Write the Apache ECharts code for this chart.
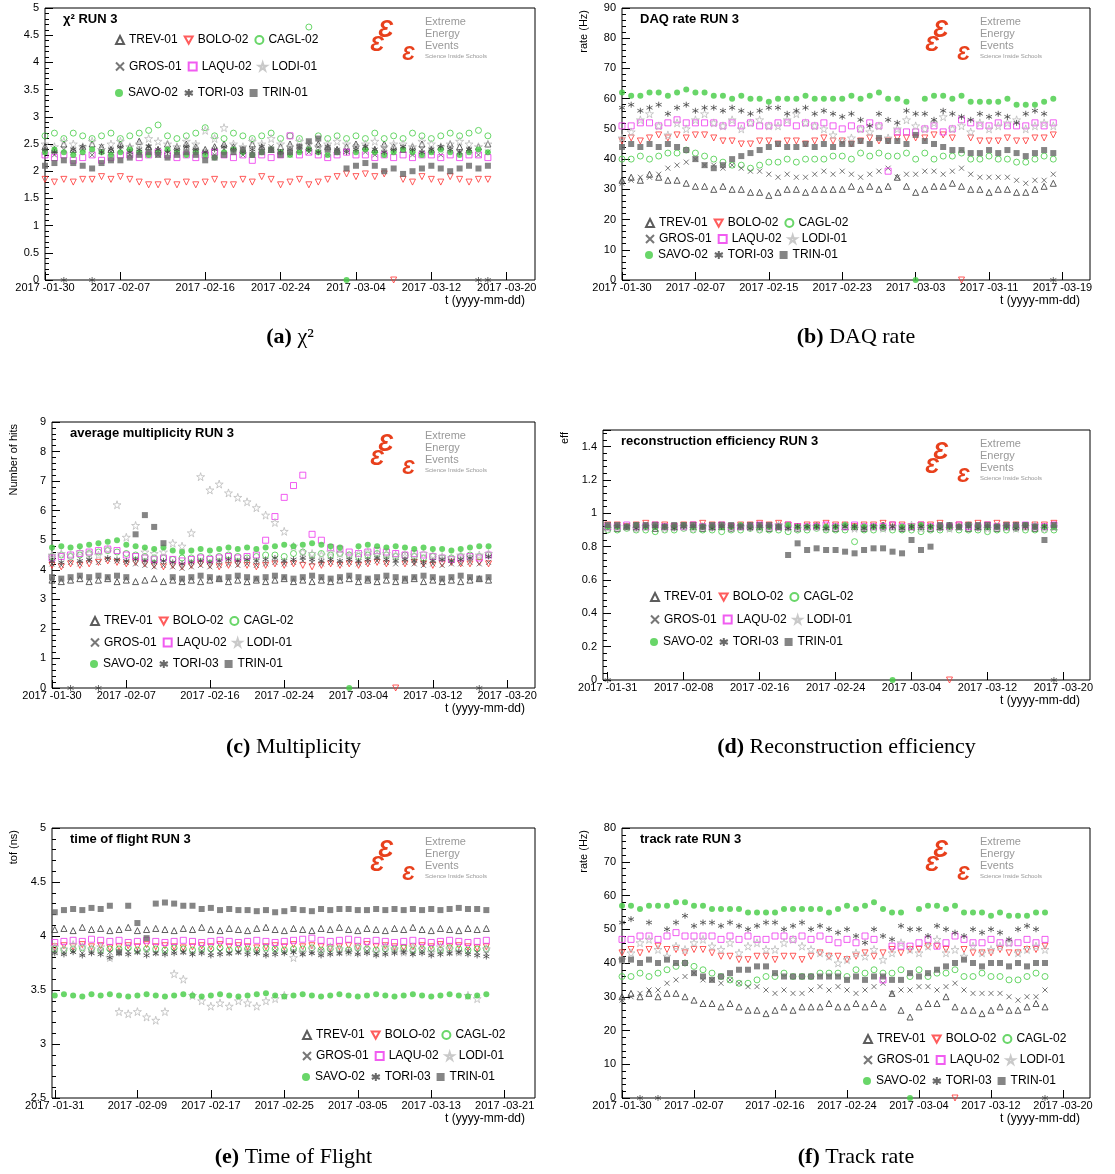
<!DOCTYPE html>
<html lang="en">
  <head>
    <meta charset="UTF-8" />
    <title>EEE RUN 3</title>
    <script src="https://cdn.jsdelivr.net/npm/echarts@6/dist/echarts.min.js"></script>
    <style>
      body { margin: 0; background: #fff; }
      #main { width: 1115px; height: 1174px; }
    </style>
  </head>
  <body>
    <div id="main"></div>
    <script>
      const stations = ["TREV-01", "BOLO-02", "CAGL-02", "GROS-01", "LAQU-02", "LODI-01", "SAVO-02", "TORI-03", "TRIN-01"];

      // chi2, days 0..47 from 2017-01-30
      const chi2 = {
        TREV: [2.45,2.4,2.5,2.4,2.45,2.5,2.45,2.4,2.5,2.45,2.55,2.45,2.4,2.5,2.45,2.5,2.45,2.4,2.45,2.5,2.45,2.4,2.5,2.45,2.4,2.45,2.5,2.4,2.45,2.5,2.45,2.4,2.45,2.5,2.45,2.4,2.5,2.45,2.4,2.45,2.5,2.4,2.45,2.5,2.45,2.4,2.45,2.5],
        BOLO: [1.85,1.8,1.85,1.8,1.85,1.85,1.9,1.85,1.9,1.85,1.8,1.75,1.75,1.8,1.75,1.8,1.75,1.8,1.85,1.75,1.75,1.85,1.8,1.9,1.85,1.75,1.8,1.85,1.75,1.8,1.85,1.9,1.95,1.9,1.95,1.9,1.95,0,1.85,1.8,1.9,1.85,1.8,1.9,1.85,1.8,1.85,1.85],
        CAGL: [2.65,2.7,2.6,2.7,2.65,2.6,2.65,2.7,2.6,2.65,2.7,2.75,2.85,2.65,2.6,2.65,2.7,2.8,2.65,2.6,2.7,2.65,2.6,2.65,2.7,2.6,2.65,2.6,4.65,2.65,2.6,2.65,2.6,2.65,2.6,2.7,2.6,2.65,2.6,2.7,2.65,2.6,2.65,2.7,2.65,2.7,2.75,2.65],
        GROS: [2.35,2.3,2.4,2.35,2.4,2.3,2.45,2.35,2.4,2.3,2.35,2.45,2.3,2.4,2.35,2.45,2.4,2.35,2.3,2.4,2.45,2.3,2.35,2.4,2.45,2.35,2.3,2.4,2.35,2.45,2.3,2.35,2.4,2.45,2.35,2.3,2.4,2.35,2.45,2.3,2.4,2.35,2.3,2.45,2.35,2.4,2.3,2.35],
        LAQU: [2.3,2.25,2.3,2.2,2.25,2.3,2.2,2.25,2.3,2.3,2.25,2.3,2.35,2.3,2.25,2.3,2.25,2.3,2.35,2.3,2.25,2.3,2.2,2.3,2.25,2.3,2.65,2.3,2.35,2.3,2.25,2.3,2.35,2.3,2.3,2.25,2.3,2.25,2.3,2.25,2.3,2.3,2.25,2.3,2.25,2.3,2.3,2.25],
        LODI: [2.5,2.45,2.55,2.5,2.45,2.55,2.4,2.5,2.55,2.45,2.5,2.6,2.55,2.5,2.45,2.55,2.5,2.75,2.6,2.8,2.5,2.45,2.55,2.5,2.6,2.5,2.45,2.55,2.5,2.45,2.5,2.55,2.5,2.45,2.5,2.55,2.45,2.5,2.5,2.45,2.55,2.5,2.45,2.5,2.55,2.5,2.45,2.5],
        SAVO: [2.35,2.4,2.35,2.3,2.35,2.4,2.35,2.3,2.35,2.4,2.35,2.3,2.35,2.4,2.35,2.3,2.35,2.3,2.25,2.35,2.4,2.35,2.3,2.35,2.4,2.35,2.3,2.35,2.4,2.35,2.3,2.35,0,2.35,2.4,2.35,2.3,2.35,2.4,2.35,2.3,2.35,2.4,2.35,2.3,2.35,2.4,2.35],
        TORI: [2.4,2.35,0,2.4,2.45,0,2.35,2.4,2.45,2.35,2.4,2.45,2.4,2.35,2.4,2.45,2.4,2.35,2.4,2.45,2.4,2.35,2.4,2.45,2.4,2.35,2.4,2.45,2.4,2.35,2.45,2.4,2.35,2.4,2.45,2.4,2.35,2.4,2.45,2.4,2.35,2.4,2.45,2.4,2.35,2.4,0,0],
        TRIN: [2.1,2.15,2.2,2.15,2.1,2.05,2.15,2.2,2.2,2.25,2.3,2.35,2.3,2.25,2.3,2.35,2.3,2.2,2.25,2.3,2.35,2.4,2.3,2.35,2.4,2.3,2.35,2.45,2.55,2.6,2.4,2.35,2.05,2.1,2.15,2.1,2.0,2.05,1.95,2.0,2.05,2.1,2.05,2.0,2.05,2.1,2.05,2.1]
      };

      const daqRate = {
        TREV: [33,34,33,35,34,33,33,32,31,31,30,31,30,30,29,29,28,29,30,30,29,30,30,30,30,31,30,31,30,31,34,31,29,30,31,31,32,31,30,30,29,30,30,29,29,30,31,32],
        BOLO: [46,47,46,47,48,47,48,47,48,48,47,46,46,45,45,46,46,45,46,46,45,46,47,46,46,45,46,47,46,46,47,47,47,47,48,48,47,0,47,46,46,46,47,46,46,47,47,48],
        CAGL: [40,40,41,40,41,42,42,43,42,41,40,39,38,38,37,38,39,39,40,39,40,40,40,41,41,40,42,41,42,41,41,42,40,42,40,41,41,42,40,40,41,40,40,39,39,40,41,40],
        GROS: [32,33,34,34,35,37,38,39,40,38,38,37,38,37,36,36,35,34,35,34,34,35,36,35,36,35,34,35,36,37,34,35,35,36,36,35,36,37,35,34,34,34,34,33,32,33,33,35],
        LAQU: [51,51,52,52,51,52,53,52,52,52,52,51,52,51,52,51,51,52,52,51,52,51,52,51,50,51,50,52,51,36,49,49,49,50,51,49,50,53,52,51,51,52,51,51,51,52,51,52],
        LODI: [47,49,53,55,51,48,52,50,53,55,52,51,53,50,52,53,51,51,53,55,52,51,50,48,46,47,50,49,51,47,50,53,51,50,52,54,50,51,49,52,50,51,52,53,50,51,52,51],
        SAVO: [62,61,61,62,62,61,62,63,62,62,61,61,60,61,60,60,59,60,60,60,61,60,60,60,60,61,60,61,62,60,60,59,0,60,61,61,60,61,59,59,59,59,60,58,58,58,59,60],
        TORI: [57,58,56,57,58,55,57,58,56,57,57,56,57,56,55,56,57,57,55,56,57,55,56,55,54,55,53,51,55,53,52,56,55,55,53,56,55,54,53,55,54,55,54,52,55,56,55,0],
        TRIN: [44,45,44,45,44,45,44,43,40,38,37,38,40,41,42,43,44,45,44,44,45,44,45,44,45,45,46,45,47,46,46,45,48,46,45,44,43,43,42,42,43,42,43,42,41,42,43,42]
      };

      const multiplicity = {
        TREV: [3.65,3.6,3.65,3.7,3.6,3.65,3.7,3.6,3.65,3.6,3.65,3.7,3.6,3.65,3.6,3.65,3.6,3.65,3.7,3.6,3.65,3.6,3.65,3.6,3.65,3.7,3.6,3.65,3.6,3.65,3.6,3.65,3.7,3.6,3.65,3.6,3.65,3.6,3.65,3.7,3.6,3.65,3.6,3.65,3.6,3.65,3.7,3.65],
        BOLO: [4.15,4.1,4.2,4.15,4.2,4.25,4.3,4.25,4.2,4.25,4.2,4.15,4.1,4.15,4.1,4.15,4.2,4.15,4.1,4.15,4.2,4.15,4.1,4.15,4.2,4.15,4.2,4.15,4.1,4.15,4.2,4.15,4.2,4.15,4.2,4.25,4.2,0,4.2,4.25,4.2,4.15,4.2,4.25,4.2,4.2,4.25,4.2],
        CAGL: [4.45,4.5,4.45,4.5,4.55,4.6,4.65,4.6,4.55,4.5,4.45,4.4,4.4,4.35,4.4,4.4,4.45,4.4,4.45,4.5,4.45,4.4,4.45,4.5,4.5,4.45,4.55,4.6,4.5,4.55,4.5,4.55,4.5,4.45,4.5,4.55,4.5,4.45,4.5,4.45,4.4,4.45,4.4,4.4,4.45,4.5,4.45,4.5],
        GROS: [4.2,4.15,4.25,4.2,4.3,4.25,4.35,4.3,4.25,4.2,4.15,4.1,4.15,4.1,4.05,4.1,4.15,4.1,4.15,4.2,4.15,4.2,4.15,4.2,4.25,4.2,4.25,4.3,4.25,4.2,4.25,4.2,4.25,4.2,4.25,4.3,4.25,4.2,4.25,4.2,4.15,4.2,4.15,4.2,4.2,4.25,4.2,4.25],
        LAQU: [4.4,4.45,4.5,4.55,4.6,4.65,4.7,4.65,4.5,4.45,4.4,4.35,4.4,4.35,4.3,4.35,4.4,4.35,4.4,4.45,4.4,4.45,4.5,5.0,5.8,6.45,6.85,7.2,5.2,5.0,4.75,4.7,4.6,4.55,4.6,4.65,4.6,4.55,4.5,4.55,4.5,4.45,4.4,4.35,4.4,4.45,4.4,4.5],
        LODI: [4.5,4.55,4.5,4.6,4.55,4.5,4.7,6.2,5.1,5.5,4.6,4.55,4.6,4.9,4.8,5.25,7.15,6.7,6.9,6.6,6.45,6.3,6.1,5.85,5.6,5.3,4.8,4.6,4.55,4.5,4.6,4.55,4.5,4.55,4.6,4.5,4.55,4.5,4.45,4.5,4.55,4.5,4.45,4.4,4.5,4.45,4.5,4.55],
        SAVO: [4.75,4.8,4.75,4.8,4.85,4.9,4.95,5.0,4.85,4.8,4.75,4.7,4.75,4.65,4.6,4.65,4.7,4.65,4.7,4.75,4.7,4.75,4.7,4.75,4.8,4.85,4.8,4.85,4.9,4.85,4.8,4.75,0,4.8,4.85,4.8,4.75,4.8,4.75,4.7,4.75,4.7,4.7,4.65,4.7,4.75,4.8,4.8],
        TORI: [4.3,4.25,0,4.3,4.35,0,4.4,4.35,4.3,4.35,4.3,4.25,4.3,4.25,4.2,4.25,4.3,4.25,4.3,4.35,4.3,4.35,4.3,4.35,4.4,4.3,4.35,4.4,4.35,4.3,4.35,4.3,4.35,4.3,4.35,4.4,4.35,4.3,4.35,4.3,4.25,4.3,4.35,4.3,4.35,4.4,0,4.45],
        TRIN: [3.75,3.7,3.75,3.8,3.75,3.8,3.75,3.8,3.75,5.2,5.85,5.45,4.9,3.75,3.7,3.75,3.8,3.75,3.7,3.75,3.8,3.75,3.7,3.75,3.8,3.75,3.7,3.75,3.8,3.75,3.7,3.75,3.8,3.75,3.7,3.75,3.8,3.75,3.7,3.75,3.8,3.75,3.7,3.75,3.8,3.75,3.7,3.75]
      };

      // efficiency, days 1..48
      const efficiency = {
        TREV: [0.92,0.91,0.92,0.93,0.92,0.91,0.92,0.92,0.93,0.92,0.91,0.92,0.92,0.91,0.92,0.93,0.92,0.91,0.92,0.92,0.91,0.92,0.93,0.92,0.91,0.92,0.92,0.91,0.92,0.93,0.92,0.91,0.92,0.92,0.91,0.92,0.93,0.92,0.91,0.92,0.92,0.91,0.92,0.93,0.92,0.91,0.92,0.92],
        BOLO: [0.93,0.93,0.92,0.93,0.94,0.93,0.93,0.92,0.93,0.93,0.94,0.93,0.93,0.92,0.93,0.93,0.94,0.93,0.94,0.93,0.92,0.93,0.93,0.94,0.93,0.93,0.92,0.93,0.93,0.94,0.93,0.93,0.92,0.93,0.93,0.94,0,0.93,0.93,0.94,0.93,0.94,0.93,0.93,0.92,0.93,0.93,0.94],
        CAGL: [0.9,0.9,0.91,0.9,0.9,0.89,0.9,0.9,0.91,0.9,0.9,0.9,0.89,0.9,0.9,0.91,0.9,0.9,0.9,0.89,0.9,0.9,0.91,0.9,0.9,0.9,0.83,0.9,0.9,0.91,0.9,0.9,0.9,0.89,0.9,0.9,0.91,0.9,0.9,0.9,0.89,0.9,0.9,0.91,0.9,0.9,0.9,0.9],
        GROS: [0.91,0.92,0.91,0.91,0.92,0.91,0.92,0.91,0.91,0.92,0.91,0.91,0.92,0.91,0.92,0.91,0.91,0.92,0.91,0.91,0.92,0.91,0.92,0.91,0.91,0.92,0.91,0.91,0.92,0.91,0.92,0.91,0.91,0.92,0.91,0.91,0.92,0.91,0.92,0.91,0.91,0.92,0.91,0.91,0.92,0.91,0.92,0.91],
        LAQU: [0.92,0.92,0.93,0.92,0.92,0.93,0.92,0.92,0.92,0.93,0.92,0.92,0.93,0.92,0.92,0.92,0.93,0.92,0.92,0.93,0.92,0.92,0.92,0.93,0.92,0.92,0.93,0.92,0.92,0.92,0.93,0.92,0.92,0.93,0.92,0.92,0.92,0.93,0.92,0.92,0.93,0.92,0.92,0.92,0.93,0.92,0.92,0.93],
        LODI: [0.91,0.92,0.92,0.91,0.92,0.93,0.91,0.92,0.92,0.91,0.92,0.92,0.93,0.91,0.92,0.92,0.91,0.92,0.93,0.92,0.91,0.92,0.92,0.91,0.92,0.93,0.91,0.92,0.92,0.91,0.92,0.92,0.93,0.91,0.92,0.92,0.91,0.92,0.93,0.92,0.91,0.92,0.92,0.91,0.92,0.93,0.91,0.92],
        SAVO: [0.92,0.92,0.92,0.93,0.92,0.92,0.92,0.92,0.93,0.92,0.92,0.92,0.92,0.92,0.93,0.92,0.92,0.92,0.92,0.93,0.92,0.92,0.92,0.92,0.92,0.93,0.92,0.92,0.92,0.92,0,0.92,0.92,0.93,0.92,0.92,0.92,0.92,0.93,0.92,0.92,0.92,0.92,0.92,0.93,0.92,0.92,0.92],
        TORI: [0,0.92,0.92,0.91,0.92,0.92,0.92,0.91,0.92,0.92,0.92,0.91,0.92,0.92,0.92,0.91,0.92,0.92,0.92,0.91,0.92,0.92,0.92,0.91,0.92,0.92,0.92,0.91,0.92,0.92,0.92,0.91,0.92,0.92,0.92,0.91,0.92,0.92,0.92,0.91,0.92,0.92,0.92,0.91,0.92,0.92,0.92,0],
        TRIN: [0.93,0.93,0.92,0.93,0.93,0.93,0.92,0.93,0.93,0.93,0.92,0.93,0.93,0.93,0.92,0.93,0.93,0.93,0.92,0.75,0.82,0.78,0.79,0.78,0.78,0.77,0.76,0.78,0.79,0.79,0.77,0.76,0.84,0.78,0.8,0.93,0.93,0.92,0.93,0.93,0.93,0.92,0.93,0.93,0.93,0.92,0.84,0.93]
      };

      // time of flight, days 1..48
      const timeOfFlight = {
        TREV: [4.06,4.07,4.05,4.08,4.06,4.07,4.05,4.06,4.08,4.05,4.06,4.07,4.06,4.05,4.07,4.06,4.08,4.06,4.05,4.07,4.06,4.05,4.07,4.08,4.06,4.05,4.07,4.06,4.05,4.07,4.06,4.08,4.06,4.05,4.07,4.06,4.05,4.07,4.06,4.08,4.06,4.05,4.07,4.06,4.05,4.07,4.06,4.07],
        BOLO: [3.9,3.91,3.9,3.92,3.9,3.91,3.89,3.9,3.91,3.9,3.92,3.9,3.91,3.9,3.89,3.9,3.91,3.9,3.92,3.9,3.91,3.9,3.89,3.9,3.91,3.9,3.92,3.9,3.91,3.9,3.89,3.9,3.91,3.9,3.92,3.9,3.91,3.9,3.89,3.9,3.91,3.9,3.92,3.9,3.91,3.9,3.89,3.9],
        CAGL: [3.88,3.87,3.88,3.89,3.88,3.87,3.88,3.88,3.89,3.87,3.88,3.88,3.87,3.89,3.88,3.87,3.88,3.88,3.89,3.87,3.88,3.88,3.87,3.89,3.88,3.87,3.88,3.88,3.89,3.87,3.88,3.88,3.87,3.89,3.88,3.87,3.88,3.88,3.89,3.87,3.88,3.88,3.87,3.89,3.88,3.87,3.88,3.88],
        GROS: [3.86,3.85,3.86,3.84,3.85,3.86,3.85,3.84,3.86,3.85,3.86,3.84,3.85,3.86,3.85,3.84,3.86,3.85,3.86,3.84,3.85,3.86,3.85,3.84,3.86,3.85,3.86,3.84,3.85,3.86,3.85,3.84,3.86,3.85,3.86,3.84,3.85,3.86,3.85,3.84,3.86,3.85,3.86,3.84,3.85,3.86,3.85,3.84],
        LAQU: [3.94,3.95,3.96,3.95,3.97,3.96,3.95,3.96,3.94,3.95,3.96,3.95,3.94,3.95,3.96,3.95,3.94,3.95,3.96,3.95,3.94,3.95,3.96,3.95,3.94,3.95,3.96,3.97,3.98,3.96,3.95,3.96,3.97,3.96,3.95,3.96,3.95,3.94,3.95,3.96,3.95,3.94,3.95,3.96,3.95,3.94,3.95,3.96],
        LODI: [3.9,3.88,3.92,3.9,3.88,3.9,3.8,3.3,3.28,3.3,3.25,3.22,3.3,3.65,3.6,3.45,3.4,3.35,3.38,3.35,3.4,3.38,3.35,3.4,3.42,3.45,3.8,3.85,3.88,3.85,3.9,3.88,3.85,3.9,3.88,3.85,3.9,3.88,3.85,3.9,3.88,3.85,3.9,3.88,3.85,3.45,3.42,3.88],
        SAVO: [3.45,3.46,3.45,3.44,3.46,3.45,3.46,3.45,3.44,3.45,3.46,3.45,3.44,3.45,3.46,3.45,3.44,3.45,3.46,3.45,3.44,3.45,3.46,3.47,3.45,3.44,3.45,3.46,3.45,3.44,3.45,3.46,3.45,3.44,3.45,3.46,3.45,3.44,3.45,3.46,3.45,3.44,3.45,3.46,3.45,3.44,3.45,3.46],
        TORI: [3.84,3.83,3.85,3.82,3.84,3.83,3.8,3.84,3.83,3.85,3.82,3.84,3.83,3.84,3.85,3.83,3.84,3.82,3.83,3.84,3.85,3.83,3.84,3.82,3.83,3.84,3.85,3.83,3.84,3.82,3.83,3.84,3.85,3.83,3.84,3.82,3.83,3.84,3.85,3.83,3.84,3.82,3.83,3.84,3.85,3.83,3.82,3.81],
        TRIN: [4.22,4.24,4.25,4.24,4.26,4.25,4.28,3.85,4.28,4.12,3.98,4.3,4.31,4.3,4.28,4.28,4.25,4.26,4.24,4.25,4.24,4.24,4.23,4.24,4.22,4.23,4.25,4.24,4.23,4.25,4.24,4.25,4.25,4.24,4.24,4.25,4.24,4.25,4.24,4.25,4.24,4.25,4.24,4.25,4.26,4.25,4.25,4.24]
      };

      const trackRate = {
        TREV: [30,31,30,31,30,31,31,30,29,28,28,27,28,27,26,26,25,26,27,26,27,27,27,28,27,27,28,27,28,27,31,26,24,27,28,28,30,27,26,26,25,26,27,26,26,27,28,27],
        BOLO: [43,44,43,44,45,44,44,43,44,44,43,42,42,41,41,42,42,41,42,42,41,42,43,42,42,41,42,43,42,43,44,43,44,44,45,45,44,0,44,43,43,43,44,43,43,44,44,45],
        CAGL: [36,36,37,36,37,38,39,40,39,38,37,36,35,34,34,35,36,36,37,36,36,36,37,37,37,36,38,37,38,37,37,38,36,38,36,37,37,38,36,36,37,36,36,35,35,36,37,36],
        GROS: [29,30,31,32,32,34,35,36,37,35,35,34,35,34,33,33,32,31,32,31,31,32,33,32,33,32,31,32,33,34,31,32,32,33,33,32,33,34,32,31,31,31,31,30,29,30,30,32],
        LAQU: [47,47,48,48,47,48,49,48,48,48,48,47,48,47,48,47,47,48,48,47,48,47,48,47,46,47,46,48,47,35,45,45,45,46,47,45,46,48,47,46,46,47,46,46,46,47,46,47],
        LODI: [41,43,46,47,44,42,45,44,46,47,45,44,46,43,45,46,44,44,46,47,45,44,43,42,40,41,43,42,44,41,43,46,44,43,45,47,43,44,42,45,43,44,45,46,43,44,45,44],
        SAVO: [57,57,56,57,57,57,58,58,57,57,56,56,56,56,55,55,55,55,56,56,56,56,56,55,56,57,56,57,58,56,55,55,0,56,57,57,56,57,55,55,55,54,55,54,54,54,55,55],
        TORI: [52,53,0,52,0,50,52,54,51,52,52,51,52,51,50,51,52,52,50,51,52,50,51,50,49,50,48,46,50,48,47,51,50,50,48,51,50,49,48,50,49,50,49,47,50,51,50,0],
        TRIN: [41,41,40,41,40,41,40,40,37,36,35,36,37,38,38,39,39,37,36,36,36,36,36,36,36,35,36,35,36,36,35,35,37,36,37,38,39,40,41,40,39,40,40,39,40,39,40,40]
      };

      const xTicksA = [0, 8, 17, 25, 33, 41, 49];
      const xTicksB = [0, 8, 16, 24, 32, 40, 48];
      const xTicksD = [1, 9, 17, 25, 33, 41, 49];
      const xTicksE = [1, 10, 18, 26, 34, 42, 50];

      const STAR = "path://M50,0L61,35L98,35L68,57L79,91L50,70L21,91L32,57L2,35L39,35Z";
      const CROSS = "path://M0,0L10,10M10,0L0,10";
      const ASTER = "path://M5,0L5,10M0,2.5L10,7.5M0,7.5L10,2.5";
      const DOWN = "path://M0,0L10,0L5,9Z";
      const styles = {
        TREV: { symbol: "triangle", color: "#333", open: true },
        BOLO: { symbol: DOWN, color: "#f33", open: true },
        CAGL: { symbol: "circle", color: "#44cc44", open: true },
        GROS: { symbol: CROSS, color: "#555", open: true, size: 5 },
        LAQU: { symbol: "rect", color: "#ee33ee", open: true },
        LODI: { symbol: STAR, color: "#bbb", open: true, size: 8 },
        SAVO: { symbol: "circle", color: "#44cc44" },
        TORI: { symbol: ASTER, color: "#444", open: true, size: 6 },
        TRIN: { symbol: "rect", color: "#666" }
      };

      const panels = [
        { data: chi2, l: 45, t: 8, r: 535, b: 280, ymin: 0, ymax: 5, yint: 0.5, xmin: 0, xmax: 52, ticks: xTicksA, start: 0,
          title: "χ² RUN 3", yname: "", leg: [110, 29, 26.5], cap: ["(a)", " χ²"], capY: 337 },
        { data: daqRate, l: 622, t: 8, r: 1090, b: 280, ymin: 0, ymax: 90, yint: 10, xmin: 0, xmax: 51, ticks: xTicksB, start: 0,
          title: "DAQ rate RUN 3", yname: "rate (Hz)", leg: [640, 212, 16], cap: ["(b)", " DAQ rate"], capY: 337 },
        { data: multiplicity, l: 52, t: 422, r: 535, b: 688, ymin: 0, ymax: 9, yint: 1, xmin: 0, xmax: 52, ticks: xTicksA, start: 0,
          title: "average multiplicity RUN 3", yname: "Number of hits", leg: [85, 610, 21.5], cap: ["(c)", " Multiplicity"], capY: 747 },
        { data: efficiency, l: 603, t: 430, r: 1090, b: 680, ymin: 0, ymax: 1.5, yint: 0.2, xmin: 0.5, xmax: 51.8, ticks: xTicksD, start: 1,
          title: "reconstruction efficiency RUN 3", yname: "eff", leg: [645, 586, 22.5], cap: ["(d)", " Reconstruction efficiency"], capY: 747 },
        { data: timeOfFlight, l: 52, t: 828, r: 535, b: 1098, ymin: 2.5, ymax: 5, yint: 0.5, xmin: 0.7, xmax: 53.3, ticks: xTicksE, start: 1,
          title: "time of flight RUN 3", yname: "tof (ns)", leg: [297, 1024, 21], cap: ["(e)", " Time of Flight"], capY: 1157 },
        { data: trackRate, l: 622, t: 828, r: 1090, b: 1098, ymin: 0, ymax: 80, yint: 10, xmin: 0, xmax: 52, ticks: xTicksA, start: 0,
          title: "track rate RUN 3", yname: "rate (Hz)", leg: [858, 1028, 21], cap: ["(f)", " Track rate"], capY: 1157 }
      ];

      const fmtDate = (v) => {
        const d = new Date(Date.UTC(2017, 0, 30) + Math.round(v) * 86400000);
        const mm = String(d.getUTCMonth() + 1).padStart(2, "0");
        const dd = String(d.getUTCDate()).padStart(2, "0");
        return "2017 -" + mm + "-" + dd;
      };

      const grid = [], xAxis = [], yAxis = [], series = [], legend = [], graphic = [];
      const FONT = "Liberation Sans";

      panels.forEach((p, i) => {
        grid.push({ left: p.l, top: p.t, width: p.r - p.l, height: p.b - p.t, show: true, borderColor: "#000", borderWidth: 1 });
        xAxis.push({
          type: "value", gridIndex: i, min: p.xmin, max: p.xmax,
          axisLine: { show: false }, splitLine: { show: false },
          axisTick: { inside: true, customValues: p.ticks, length: 8, lineStyle: { color: "#000" } },
          axisLabel: { customValues: p.ticks, formatter: fmtDate, color: "#000", fontSize: 11, fontFamily: FONT, margin: 2 }
        });
        yAxis.push({
          type: "value", gridIndex: i, min: p.ymin, max: p.ymax, interval: p.yint,
          axisLine: { show: false }, splitLine: { show: false },
          axisTick: { inside: true, length: 8, lineStyle: { color: "#000" } },
          minorTick: { show: true, splitNumber: 5, length: 4, lineStyle: { color: "#000" } },
          axisLabel: { color: "#000", fontSize: 11, fontFamily: FONT, margin: 6, showMaxLabel: p.ymax % p.yint === 0 }
        });
        stations.forEach((st) => {
          const k = st.slice(0, 4), s = styles[k];
          series.push({
            name: st, type: "scatter", xAxisIndex: i, yAxisIndex: i,
            symbol: s.symbol, symbolSize: s.size || 6,
            itemStyle: s.open
              ? { color: "rgba(255,255,255,0)", borderColor: s.color, borderWidth: 1 }
              : { color: s.color },
            data: p.data[k].map((v, j) => [p.start + j, v])
          });
        });
        for (let row = 0; row < 3; row++) {
          legend.push({
            left: p.leg[0], top: p.leg[1] + row * p.leg[2], itemGap: 6, itemWidth: 8, itemHeight: 8,
            selectedMode: false, data: stations.slice(row * 3, row * 3 + 3),
            textStyle: { fontFamily: FONT, fontSize: 12, color: "#000", width: 56 }
          });
        }
        graphic.push({ type: "text", left: p.l + 18, top: p.t + 5,
          style: { text: p.title, font: "bold 13px " + FONT, fill: "#000" } });
        if (p.yname) {
          graphic.push({ type: "text", x: p.l - 38, y: p.t + 2, rotation: Math.PI / 2,
            style: { text: p.yname, font: "11px " + FONT, fill: "#000", align: "right", verticalAlign: "middle" } });
        }
        graphic.push({ type: "text", x: p.r - 10, y: p.b + 15,
          style: { text: "t (yyyy-mm-dd)", font: "12px " + FONT, fill: "#000", align: "right" } });
        // logo
        const lx = p.r - 165, ly = p.t + 8;
        graphic.push({ type: "text", x: lx + 8, y: ly + 2,
          style: { text: "Ɛ", font: "bold italic 24px " + FONT, fill: "#e8401c" } });
        graphic.push({ type: "text", x: lx, y: ly + 18,
          style: { text: "Ɛ", font: "bold italic 22px " + FONT, fill: "#e8401c" } });
        graphic.push({ type: "text", x: lx + 32, y: ly + 28,
          style: { text: "Ɛ", font: "bold italic 20px " + FONT, fill: "#e8401c" } });
        graphic.push({ type: "text", x: lx + 55, y: ly,
          style: { text: "Extreme\nEnergy\nEvents", font: "11px " + FONT, fill: "#999", lineHeight: 12 } });
        graphic.push({ type: "text", x: lx + 55, y: ly + 37,
          style: { text: "Science Inside Schools", font: "6px " + FONT, fill: "#999" } });
        // caption
        graphic.push({ type: "text", x: (p.l + p.r) / 2, y: p.capY,
          style: {
            text: "{b|" + p.cap[0] + "}" + p.cap[1],
            font: "22px 'Liberation Serif'", fill: "#000", align: "center", verticalAlign: "middle",
            rich: { b: { fontWeight: "bold", fontSize: 22, fontFamily: "Liberation Serif" } }
          } });
      });

      const chart = echarts.init(document.getElementById("main"));
      chart.setOption({ animation: false, grid, xAxis, yAxis, series, legend, graphic });
    </script>
  </body>
</html>
